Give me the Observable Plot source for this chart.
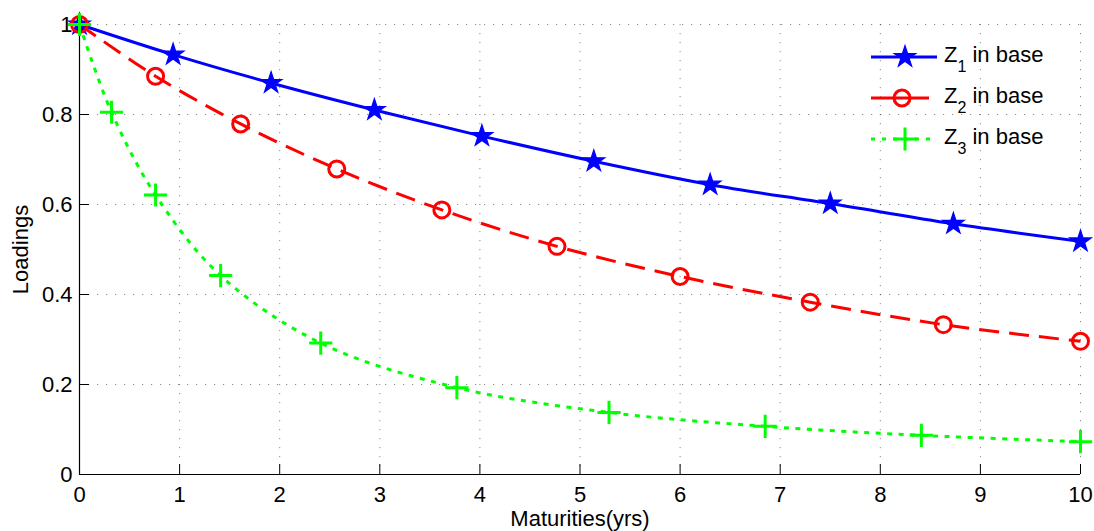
<!DOCTYPE html>
<html><head><meta charset="utf-8">
<script src="https://cdn.jsdelivr.net/npm/d3@7"></script>
<script src="https://cdn.jsdelivr.net/npm/@observablehq/plot@0.6"></script>
<style>
body{margin:0;background:#fff;}
#wrap{position:relative;width:1094px;height:531px;overflow:hidden;background:#fff;}
#legend{position:absolute;left:0;top:0;pointer-events:none;}
</style></head><body><div id="wrap"></div>
<script>
// ---- data ----
const seriesNames = ["Z1", "Z2", "Z3"];
const legendSubscripts = ["1", "2", "3"];
const legendSuffix = " in base";

const z1Maturity = [0, 0.935, 1.914, 2.946, 4.02, 5.138, 6.30, 7.50, 8.73, 10];
const z1Loading  = [1, 0.933, 0.870, 0.810, 0.752, 0.696, 0.644, 0.602, 0.557, 0.518];

const z2Maturity = [0, 0.76, 1.61, 2.57, 3.62, 4.77, 6.0, 7.30, 8.63, 10];
const z2Loading  = [1, 0.885, 0.779, 0.679, 0.588, 0.507, 0.44, 0.383, 0.333, 0.296];

const z3Maturity = [0, 0.32, 0.76, 1.41, 2.41, 3.77, 5.29, 6.85, 8.41, 10];
const z3Loading  = [1, 0.805, 0.621, 0.442, 0.292, 0.193, 0.138, 0.107, 0.087, 0.073];

const xTicks = [0, 1, 2, 3, 4, 5, 6, 7, 8, 9, 10];
const xTickLabels = ["0", "1", "2", "3", "4", "5", "6", "7", "8", "9", "10"];
const yTicks = [0, 0.2, 0.4, 0.6, 0.8, 1];
const yTickLabels = ["0", "0.2", "0.4", "0.6", "0.8", "1"];
const xLabel = "Maturities(yrs)";
const yLabel = "Loadings";

// ---- styles ----
const FONT = "'Liberation Sans', Arial, Helvetica, sans-serif";
const styles = {
  Z1: {color: "#0000ff", dash: null, symbol: "star", r: 6.8, fill: "#0000ff", sw: 1.2},
  Z2: {color: "#ff0000", dash: "20,10", symbol: "circle", r: 8, fill: "none", sw: 3},
  Z3: {color: "#00ff00", dash: "5,6.5", symbol: "plus", r: 7.5, fill: "none", sw: 3}
};

const rows = [];
[[z1Maturity, z1Loading], [z2Maturity, z2Loading], [z3Maturity, z3Loading]].forEach(([xs, ys], k) => {
  xs.forEach((x, i) => rows.push({series: seriesNames[k], x, y: ys[i]}));
});

const W = 1094, H = 531, ML = 79, MR = 14, MT = 24, MB = 57;
const plotW = W - ML - MR, plotH = H - MT - MB;
const xMin = xTicks[0], xMax = xTicks[xTicks.length - 1];
const yMin = yTicks[0], yMax = yTicks[yTicks.length - 1];

const marks = [
  Plot.gridX(xTicks.filter(d => d > xMin), {stroke: "#000", strokeOpacity: 0.45, strokeDasharray: "1.2,7.8"}),
  Plot.gridY(yTicks.filter(d => d > yMin), {stroke: "#000", strokeOpacity: 0.45, strokeDasharray: "1.2,7.8"}),
  // inward tick marks (10 px long)
  Plot.ruleX(xTicks, {x: d => d, y1: () => yMax, y2: () => yMin, insetTop: plotH - 10, stroke: "#000"}),
  Plot.ruleY(yTicks, {y: d => d, x1: () => xMin, x2: () => xMax, insetRight: plotW - 10, stroke: "#000"}),
  // axis lines
  Plot.ruleX([xMin], {stroke: "#000", strokeWidth: 1.2}),
  Plot.ruleY([yMin], {stroke: "#000", strokeWidth: 1.2}),
  Plot.axisX({ticks: xTicks, tickSize: 0, tickPadding: 12, tickFormat: d => xTickLabels[xTicks.indexOf(d)],
    label: xLabel, labelArrow: false, labelAnchor: "center", labelOffset: 51, fontSize: 22}),
  Plot.axisY({ticks: yTicks, tickSize: 0, tickPadding: 7, tickFormat: d => yTickLabels[yTicks.indexOf(d)],
    label: yLabel, labelArrow: false, labelAnchor: "center", labelOffset: 67, fontSize: 22})
];
for (const s of seriesNames) {
  const st = styles[s];
  marks.push(Plot.line(rows, {filter: d => d.series === s, x: "x", y: "y", stroke: st.color, strokeWidth: 3,
    strokeDasharray: st.dash, curve: "catmull-rom", strokeLinecap: "butt"}));
}
for (const s of seriesNames) {
  const st = styles[s];
  marks.push(Plot.dot(rows, {filter: d => d.series === s, x: "x", y: "y", symbol: st.symbol, r: st.r,
    stroke: st.color, fill: st.fill, strokeWidth: st.sw}));
}

const chart = Plot.plot({
  width: W, height: H, marginLeft: ML, marginRight: MR, marginTop: MT, marginBottom: MB,
  style: {fontFamily: FONT, fontSize: "22px", background: "white", color: "black", overflow: "visible"},
  x: {domain: [xMin, xMax]},
  y: {domain: [yMin, yMax]},
  marks
});
document.getElementById("wrap").appendChild(chart);

// ---- legend (overlay) ----
const legendYs = [57, 98, 139];
const lg = d3.select("#wrap").append("svg").attr("id", "legend").attr("width", W).attr("height", H);
const symMap = {star: d3.symbolStar, circle: d3.symbolCircle, plus: d3.symbolPlus};
seriesNames.forEach((s, i) => {
  const st = styles[s];
  const y = legendYs[i];
  const g = lg.append("g");
  const x1 = 871, x2 = s === "Z2" ? 929 : 937, cx = s === "Z2" ? 902 : 905;
  g.append("line").attr("x1", x1).attr("x2", x2).attr("y1", y).attr("y2", y)
    .attr("stroke", st.color).attr("stroke-width", 3)
    .attr("stroke-dasharray", s === "Z3" ? "4,7" : null);
  g.append("path").attr("transform", `translate(${cx},${y})`)
    .attr("d", d3.symbol(symMap[st.symbol], Math.PI * st.r * st.r)())
    .attr("fill", st.fill).attr("stroke", st.color).attr("stroke-width", st.sw);
  const t = g.append("text").attr("x", 944).attr("y", y + 5)
    .attr("font-family", FONT).attr("font-size", 22).attr("fill", "#000");
  t.append("tspan").text("Z");
  t.append("tspan").attr("dy", 10).attr("font-size", 16).text(legendSubscripts[i]);
  t.append("tspan").attr("dy", -10).text(legendSuffix);
});
</script></body></html>
